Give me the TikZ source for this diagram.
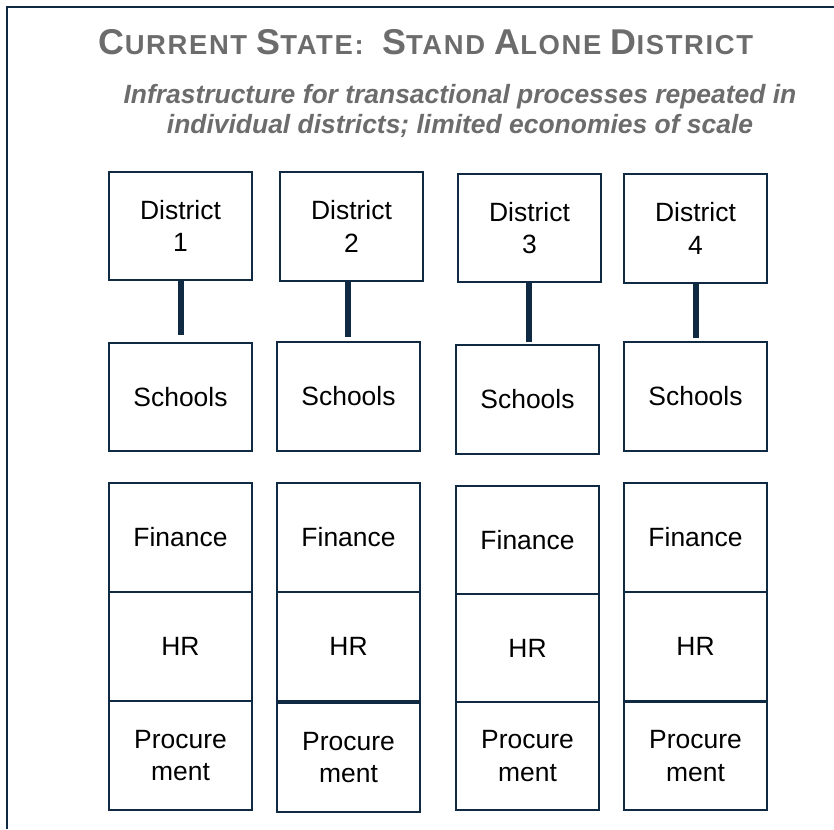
\documentclass[tikz,border=0pt]{standalone}
\usepackage{fontspec}
\setmainfont{Liberation Sans}
\usepackage{xcolor}
\usepackage{tikz}
\usetikzlibrary{positioning}

\definecolor{navy}{RGB}{16,42,68}
\definecolor{titlegray}{RGB}{108,108,108}

% fake small caps: big first letter, smaller rest
\newcommand{\capword}[2]{{\fontsize{25.5}{28}\selectfont #1}{\fontsize{19.5}{22}\selectfont #2}}
\newcommand{\capgap}{{\fontsize{19.5}{22}\selectfont\ }}

\begin{document}
\begin{tikzpicture}[
    x=0.025cm,
    y=-0.025cm,
    unitbox/.style={
        rectangle,
        draw=navy,
        line width=1.4pt,
        fill=white,
        minimum width=3.575cm,
        minimum height=2.72cm,
        inner sep=0pt,
        align=center,
        font=\fontsize{18.8}{23}\selectfont
    },
    link/.style={
        draw=navy,
        line width=3.6pt
    },
    frame/.style={
        draw=navy,
        line width=1.5pt
    }
]
\useasboundingbox (0,0) rectangle (834,829);

% Rahmen (nur oben und links sichtbar)
\draw[frame] (834,7) -- (7,7) -- (7,829);

% Titel
\node[anchor=base, text=titlegray, font=\bfseries\addfontfeature{LetterSpace=6}] (title) at (426,54)
    {\capword{C}{URRENT}\capgap\capword{S}{TATE:}\capgap\capgap\capword{S}{TAND}\capgap\capword{A}{LONE}\capgap\capword{D}{ISTRICT}};
\node[align=center, text=titlegray, font=\fontsize{18.8}{21.5}\selectfont\bfseries\itshape] (subtitle) at (460,111)
    {Infrastructure for transactional processes repeated in\\individual districts; limited economies of scale};

% Bezirke
\node[unitbox] (d1) at (180.5,226) {District\\1};
\node[unitbox] (d2) at (351.5,226.5) {District\\2};
\node[unitbox] (d3) at (529.5,228) {District\\3};
\node[unitbox] (d4) at (695.5,228.5) {District\\4};

% Schulen
\node[unitbox] (s1) at (180.5,397) {Schools};
\node[unitbox] (s2) at (348.5,396.5) {Schools};
\node[unitbox] (s3) at (527.5,399.5) {Schools};
\node[unitbox] (s4) at (695.5,396.5) {Schools};

% Verbindungen Bezirk -> Schulen
\coordinate (e1) at (181,335);
\coordinate (e2) at (348,337);
\coordinate (e3) at (529,342);
\coordinate (e4) at (696,338);
\draw[link] (d1.south -| e1) -- (e1);
\draw[link] (d2.south -| e2) -- (e2);
\draw[link] (d3.south -| e3) -- (e3);
\draw[link] (d4.south -| e4) -- (e4);

% Finanzen
\node[unitbox] (f1) at (180.5,537.5) {Finance};
\node[unitbox] (f2) at (348.5,537.5) {Finance};
\node[unitbox] (f3) at (527.5,540.5) {Finance};
\node[unitbox] (f4) at (695.5,537.5) {Finance};

% Personal
\node[unitbox] (h1) at (180.5,646.5) {HR};
\node[unitbox] (h2) at (348.5,646.5) {HR};
\node[unitbox] (h3) at (527.5,648.5) {HR};
\node[unitbox] (h4) at (695.5,646.5) {HR};

% Beschaffung
\node[unitbox] (p1) at (180.5,755.5) {Procure\\ment};
\node[unitbox] (p2) at (348.5,757.5) {Procure\\ment};
\node[unitbox] (p3) at (527.5,756) {Procure\\ment};
\node[unitbox] (p4) at (695.5,756) {Procure\\ment};

\end{tikzpicture}
\end{document}
